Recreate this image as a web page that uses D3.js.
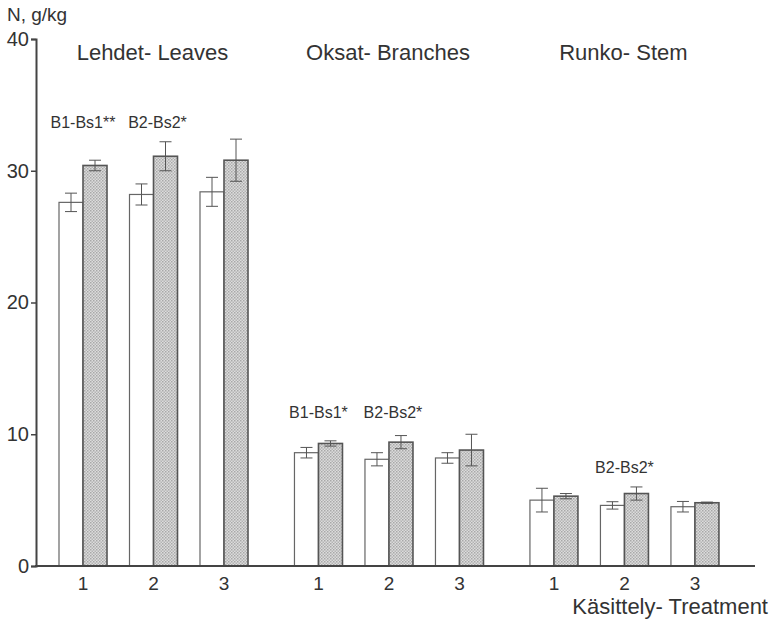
<!DOCTYPE html>
<html>
<head>
<meta charset="utf-8">
<script src="https://cdn.jsdelivr.net/npm/d3@7.9.0/dist/d3.min.js"></script>
<style>
  body { margin: 0; background: #fff; }
  svg text { font-family: "Liberation Sans", Arial, sans-serif; fill: #333; }
</style>
</head>
<body>
<svg id="chart" width="772" height="626"></svg>
<script>
// values
const parts = ['Lehdet- Leaves', 'Oksat- Branches', 'Runko- Stem'];
const treatments = ['1', '2', '3'];
const whiteVals = [[27.6, 28.2, 28.4], [8.6, 8.1, 8.2], [5.0, 4.6, 4.5]];
const whiteErr  = [[0.7, 0.8, 1.1], [0.4, 0.5, 0.4], [0.9, 0.28, 0.4]];
const grayVals  = [[30.4, 31.1, 30.8], [9.3, 9.4, 8.8], [5.3, 5.5, 4.8]];
const grayErr   = [[0.4, 1.1, 1.6], [0.2, 0.5, 1.2], [0.2, 0.5, 0.05]];
// significance notes: [part, treatment index, text]
const notes = [
  [0, 0, 'B1-Bs1**'], [0, 1, 'B2-Bs2*'],
  [1, 0, 'B1-Bs1*'], [1, 1, 'B2-Bs2*'],
  [2, 1, 'B2-Bs2*']
];
const noteY = [33.25, 11.2, 7.05];
const yTicks = [0, 10, 20, 30, 40];

const svg = d3.select('#chart');
const y = d3.scaleLinear().domain([0, 40]).range([566, 39]);
// slot position: each part takes 3 slots plus a gap
const setStep = 3.34;
const x = d3.scaleLinear().domain([0, 1]).range([83, 153.5]);
const slot = (p, t) => x(p * setStep + t);
const barW = 24;

const defs = svg.append('defs');
const pat = defs.append('pattern')
  .attr('id', 'dots').attr('width', 3).attr('height', 3)
  .attr('patternUnits', 'userSpaceOnUse');
pat.append('rect').attr('width', 3).attr('height', 3).attr('fill', '#dcdcdc');
pat.append('rect').attr('width', 1.5).attr('height', 1.5).attr('fill', '#a8a8a8');
pat.append('rect').attr('x', 1.5).attr('y', 1.5).attr('width', 1.5).attr('height', 1.5).attr('fill', '#b4b4b4');

// y axis
const yAxis = svg.append('g').attr('transform', 'translate(36,0)')
  .call(d3.axisLeft(y).tickValues(yTicks).tickSize(5).tickPadding(2));
yAxis.select('.domain').attr('stroke', '#444').attr('stroke-width', 2);
yAxis.selectAll('.tick line').attr('stroke', '#444').attr('stroke-width', 1.5);
yAxis.selectAll('.tick text').attr('font-size', 20).attr('fill', '#333')
  .attr('font-family', '"Liberation Sans", Arial, sans-serif');

svg.append('text').attr('x', 7).attr('y', 21).attr('font-size', 19).text('N, g/kg');

parts.forEach((name, p) => {
  svg.append('text').attr('x', slot(p, 1) - 1).attr('y', 60)
    .attr('text-anchor', 'middle').attr('font-size', 22).text(name);

  treatments.forEach((t, i) => {
    const cx = slot(p, i);
    const bars = [
      { x0: cx - barW, v: whiteVals[p][i], e: whiteErr[p][i], fill: '#fff', stroke: '#666', sw: 1.2 },
      { x0: cx, v: grayVals[p][i], e: grayErr[p][i], fill: 'url(#dots)', stroke: '#555', sw: 1.6 }
    ];
    bars.forEach(b => {
      svg.append('rect')
        .attr('x', b.x0).attr('y', y(b.v))
        .attr('width', barW).attr('height', y(0) - y(b.v))
        .attr('fill', b.fill).attr('stroke', b.stroke).attr('stroke-width', b.sw);
      const mx = b.x0 + barW / 2;
      const eb = svg.append('g').attr('stroke', '#555').attr('stroke-width', 1);
      eb.append('line').attr('x1', mx).attr('x2', mx).attr('y1', y(b.v + b.e)).attr('y2', y(b.v - b.e));
      eb.append('line').attr('x1', mx - 6).attr('x2', mx + 6).attr('y1', y(b.v + b.e)).attr('y2', y(b.v + b.e));
      eb.append('line').attr('x1', mx - 6).attr('x2', mx + 6).attr('y1', y(b.v - b.e)).attr('y2', y(b.v - b.e));
    });
    svg.append('text').attr('x', cx).attr('y', 590)
      .attr('text-anchor', 'middle').attr('font-size', 19).text(t);
  });
});

notes.forEach(([p, i, txt]) => {
  svg.append('text').attr('x', slot(p, i) + (i === 1 && p < 2 ? 4 : 0)).attr('y', y(noteY[p]))
    .attr('text-anchor', 'middle').attr('font-size', 16).text(txt);
});

// x axis baseline
svg.append('line').attr('x1', 35).attr('x2', 755).attr('y1', y(0)).attr('y2', y(0))
  .attr('stroke', '#444').attr('stroke-width', 2);

svg.append('text').attr('x', 768).attr('y', 614).attr('text-anchor', 'end')
  .attr('font-size', 22).text('Käsittely- Treatment');
</script>
</body>
</html>
